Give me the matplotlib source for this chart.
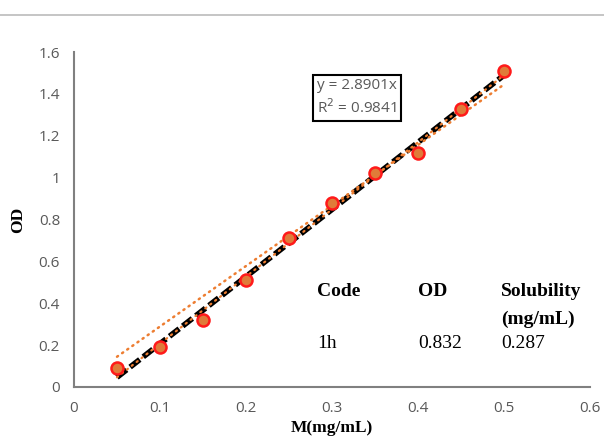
import numpy as np
import matplotlib.pyplot as plt
from matplotlib.lines import Line2D

# concentration (mg/mL) and optical density
conc = [0.05, 0.10, 0.15, 0.20, 0.25, 0.30, 0.35, 0.40, 0.45, 0.50]
od = [0.09, 0.19, 0.32, 0.51, 0.71, 0.88, 1.02, 1.12, 1.33, 1.51]

slope_origin = 2.8901
r2_text = "0.9841"

table_head = ["Code", "OD", "Solubility\n(mg/mL)"]
table_row = ["1h", "0.832", "0.287"]

x_ticks = [0, 0.1, 0.2, 0.3, 0.4, 0.5, 0.6]
y_ticks = [0, 0.2, 0.4, 0.6, 0.8, 1, 1.2, 1.4, 1.6]

grey = "#595959"
orange = "#ED7D31"

fig = plt.figure(figsize=(6.04, 4.46), dpi=100)
ax = fig.add_axes([0.1225, 0.1323, 0.8545, 0.7511])

# top rule across the page
fig.add_artist(Line2D([0, 1], [0.967, 0.967], color="#bbbbbb", lw=1.2,
                      transform=fig.transFigure))

x = np.array(conc)
y = np.array(od)
xl = np.array([x.min(), x.max()])

# least-squares fit with intercept (black dashes)
p = np.polyfit(x, y, 1)
ax.plot(xl, np.polyval(p, xl), color="black", lw=4, ls=(0, (2.2, 0.8)), zorder=2)
ax.plot(xl, np.polyval(p, xl), color=orange, lw=1.6, ls=(0, (0.6, 2.2)),
        dash_capstyle="round", zorder=3)

# trendline through origin (orange dots)
ax.plot(xl, slope_origin * xl, color=orange, lw=1.8, ls=(0, (0.5, 2.0)),
        dash_capstyle="round", zorder=2)

ax.scatter(x, y, s=75, facecolor="#E07B39", edgecolor="#FF1A1A", lw=1.8, zorder=4)

ax.set_xlim(0, 0.6)
ax.set_ylim(0, 1.6)
ax.set_xticks(x_ticks)
ax.set_yticks(y_ticks)
ax.set_xticklabels([f"{t:g}" for t in x_ticks])
ax.set_yticklabels([f"{t:g}" for t in y_ticks])
ax.tick_params(length=0, colors=grey, labelsize=11, pad=10)
for lab in ax.get_xticklabels() + ax.get_yticklabels():
    lab.set_family("Open Sans")
    lab.set_color(grey)

for s in ["top", "right"]:
    ax.spines[s].set_visible(False)
for s in ["left", "bottom"]:
    ax.spines[s].set_color("#808080")
    ax.spines[s].set_linewidth(1.5)

ax.set_xlabel("M(mg/mL)", family="Liberation Serif", weight="bold", fontsize=12.5, labelpad=3)
ax.set_ylabel("OD", family="Liberation Serif", weight="bold", fontsize=12.5, labelpad=9)

ax.text(0.471, 0.863, f"y = {slope_origin}x\nR$^2$ = {r2_text}", transform=ax.transAxes,
        ha="left", va="center", fontsize=11, color=grey, family="Open Sans",
        linespacing=1.35,
        bbox=dict(boxstyle="square,pad=0.25", fc="white", ec="black", lw=1.5))

col_x = [0.471, 0.667, 0.828]
for cx, h in zip(col_x, table_head):
    ax.text(cx, 0.31, h, transform=ax.transAxes, ha="left", va="top", fontsize=14,
            family="Liberation Serif", weight="bold", linespacing=1.8)
for cx, v in zip(col_x, table_row):
    ax.text(cx, 0.131, v, transform=ax.transAxes, ha="left", va="center", fontsize=14,
            family="Liberation Serif")

fig.savefig("out.png", dpi=100)
